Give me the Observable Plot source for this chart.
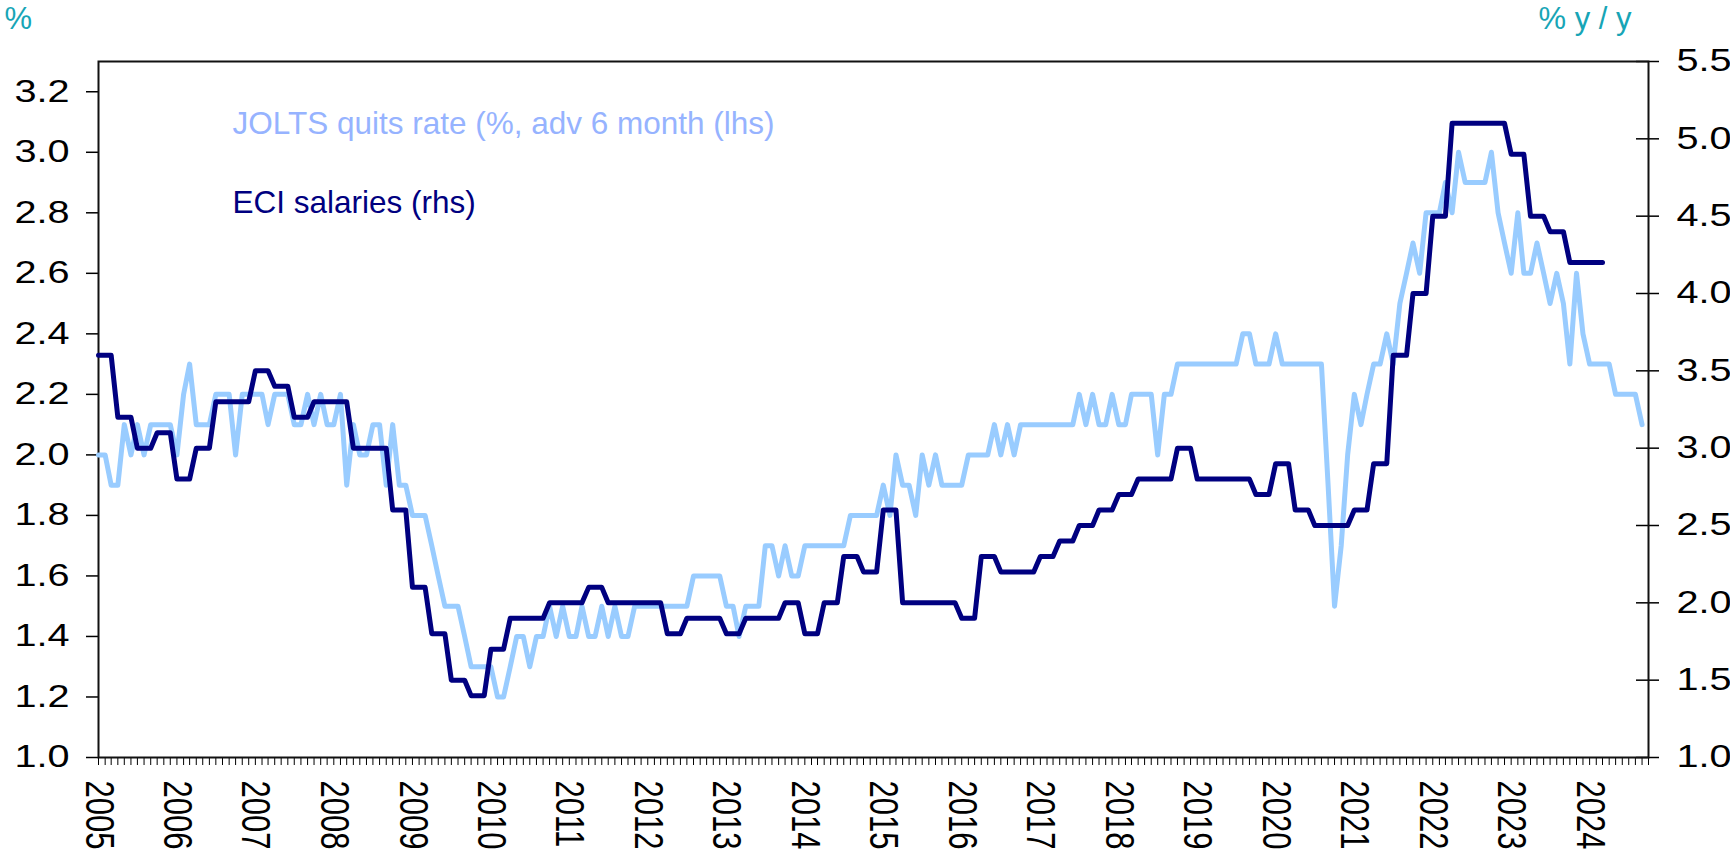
<!DOCTYPE html>
<html>
<head>
<meta charset="utf-8">
<script src="https://cdn.jsdelivr.net/npm/d3@7"></script>
<script src="https://cdn.jsdelivr.net/npm/@observablehq/plot@0.6"></script>
<style>
  html, body { margin: 0; padding: 0; background: #ffffff; }
  #chart { width: 1730px; height: 851px; }
</style>
</head>
<body>
<div id="chart"></div>
<script>
// ---- data (monthly, starting January 2005) ----
const startYear = 2005;

// JOLTS quits rate, %, advanced 6 months (lhs), Jan 2005 .. Sep 2024
const joltsQuits = [
  2.0, 2.0, 1.9, 1.9, 2.1, 2.0, 2.1, 2.0, 2.1, 2.1, 2.1, 2.1, // 2005
  2.0, 2.2, 2.3, 2.1, 2.1, 2.1, 2.2, 2.2, 2.2, 2.0, 2.2, 2.2, // 2006
  2.2, 2.2, 2.1, 2.2, 2.2, 2.2, 2.1, 2.1, 2.2, 2.1, 2.2, 2.1, // 2007
  2.1, 2.2, 1.9, 2.1, 2.0, 2.0, 2.1, 2.1, 1.9, 2.1, 1.9, 1.9, // 2008
  1.8, 1.8, 1.8, 1.7, 1.6, 1.5, 1.5, 1.5, 1.4, 1.3, 1.3, 1.3, // 2009
  1.3, 1.2, 1.2, 1.3, 1.4, 1.4, 1.3, 1.4, 1.4, 1.5, 1.4, 1.5, // 2010
  1.4, 1.4, 1.5, 1.4, 1.4, 1.5, 1.4, 1.5, 1.4, 1.4, 1.5, 1.5, // 2011
  1.5, 1.5, 1.5, 1.5, 1.5, 1.5, 1.5, 1.6, 1.6, 1.6, 1.6, 1.6, // 2012
  1.5, 1.5, 1.4, 1.5, 1.5, 1.5, 1.7, 1.7, 1.6, 1.7, 1.6, 1.6, // 2013
  1.7, 1.7, 1.7, 1.7, 1.7, 1.7, 1.7, 1.8, 1.8, 1.8, 1.8, 1.8, // 2014
  1.9, 1.8, 2.0, 1.9, 1.9, 1.8, 2.0, 1.9, 2.0, 1.9, 1.9, 1.9, // 2015
  1.9, 2.0, 2.0, 2.0, 2.0, 2.1, 2.0, 2.1, 2.0, 2.1, 2.1, 2.1, // 2016
  2.1, 2.1, 2.1, 2.1, 2.1, 2.1, 2.2, 2.1, 2.2, 2.1, 2.1, 2.2, // 2017
  2.1, 2.1, 2.2, 2.2, 2.2, 2.2, 2.0, 2.2, 2.2, 2.3, 2.3, 2.3, // 2018
  2.3, 2.3, 2.3, 2.3, 2.3, 2.3, 2.3, 2.4, 2.4, 2.3, 2.3, 2.3, // 2019
  2.4, 2.3, 2.3, 2.3, 2.3, 2.3, 2.3, 2.3, 1.9, 1.5, 1.7, 2.0, // 2020
  2.2, 2.1, 2.2, 2.3, 2.3, 2.4, 2.3, 2.5, 2.6, 2.7, 2.6, 2.8, // 2021
  2.8, 2.8, 2.9, 2.8, 3.0, 2.9, 2.9, 2.9, 2.9, 3.0, 2.8, 2.7, // 2022
  2.6, 2.8, 2.6, 2.6, 2.7, 2.6, 2.5, 2.6, 2.5, 2.3, 2.6, 2.4, // 2023
  2.3, 2.3, 2.3, 2.3, 2.2, 2.2, 2.2, 2.2, 2.1                 // 2024
];

// ECI salaries, % y/y (rhs), quarterly values shown monthly, Jan 2005 .. Mar 2024
const eciSalaries = [
  3.6, 3.6, 3.6, 3.2, 3.2, 3.2, 3.0, 3.0, 3.0, 3.1, 3.1, 3.1, // 2005
  2.8, 2.8, 2.8, 3.0, 3.0, 3.0, 3.3, 3.3, 3.3, 3.3, 3.3, 3.3, // 2006
  3.5, 3.5, 3.5, 3.4, 3.4, 3.4, 3.2, 3.2, 3.2, 3.3, 3.3, 3.3, // 2007
  3.3, 3.3, 3.3, 3.0, 3.0, 3.0, 3.0, 3.0, 3.0, 2.6, 2.6, 2.6, // 2008
  2.1, 2.1, 2.1, 1.8, 1.8, 1.8, 1.5, 1.5, 1.5, 1.4, 1.4, 1.4, // 2009
  1.7, 1.7, 1.7, 1.9, 1.9, 1.9, 1.9, 1.9, 1.9, 2.0, 2.0, 2.0, // 2010
  2.0, 2.0, 2.0, 2.1, 2.1, 2.1, 2.0, 2.0, 2.0, 2.0, 2.0, 2.0, // 2011
  2.0, 2.0, 2.0, 1.8, 1.8, 1.8, 1.9, 1.9, 1.9, 1.9, 1.9, 1.9, // 2012
  1.8, 1.8, 1.8, 1.9, 1.9, 1.9, 1.9, 1.9, 1.9, 2.0, 2.0, 2.0, // 2013
  1.8, 1.8, 1.8, 2.0, 2.0, 2.0, 2.3, 2.3, 2.3, 2.2, 2.2, 2.2, // 2014
  2.6, 2.6, 2.6, 2.0, 2.0, 2.0, 2.0, 2.0, 2.0, 2.0, 2.0, 2.0, // 2015
  1.9, 1.9, 1.9, 2.3, 2.3, 2.3, 2.2, 2.2, 2.2, 2.2, 2.2, 2.2, // 2016
  2.3, 2.3, 2.3, 2.4, 2.4, 2.4, 2.5, 2.5, 2.5, 2.6, 2.6, 2.6, // 2017
  2.7, 2.7, 2.7, 2.8, 2.8, 2.8, 2.8, 2.8, 2.8, 3.0, 3.0, 3.0, // 2018
  2.8, 2.8, 2.8, 2.8, 2.8, 2.8, 2.8, 2.8, 2.8, 2.7, 2.7, 2.7, // 2019
  2.9, 2.9, 2.9, 2.6, 2.6, 2.6, 2.5, 2.5, 2.5, 2.5, 2.5, 2.5, // 2020
  2.6, 2.6, 2.6, 2.9, 2.9, 2.9, 3.6, 3.6, 3.6, 4.0, 4.0, 4.0, // 2021
  4.5, 4.5, 4.5, 5.1, 5.1, 5.1, 5.1, 5.1, 5.1, 5.1, 5.1, 5.1, // 2022
  4.9, 4.9, 4.9, 4.5, 4.5, 4.5, 4.4, 4.4, 4.4, 4.2, 4.2, 4.2, // 2023
  4.2, 4.2, 4.2                                               // 2024
];

const leftTicks  = [1.0, 1.2, 1.4, 1.6, 1.8, 2.0, 2.2, 2.4, 2.6, 2.8, 3.0, 3.2];
const rightTicks = [1.0, 1.5, 2.0, 2.5, 3.0, 3.5, 4.0, 4.5, 5.0, 5.5];
const yearLabels = [2005, 2006, 2007, 2008, 2009, 2010, 2011, 2012, 2013, 2014,
                    2015, 2016, 2017, 2018, 2019, 2020, 2021, 2022, 2023, 2024];
const leftDomain  = [1.0, 3.3];
const rightDomain = [1.0, 5.5];
const axisMonths  = 237; // axis runs Jan 2005 .. Oct 2024

const seriesNames = {
  jolts: "JOLTS quits rate (%, adv 6 month (lhs)",
  eci: "ECI salaries (rhs)"
};
const axisTitles = { left: "%", right: "% y / y" };

// ---- helpers ----
const month = i => new Date(Date.UTC(startYear, i, 1));
const toLeft = r => leftDomain[0] + (r - rightDomain[0]) * (leftDomain[1] - leftDomain[0]) / (rightDomain[1] - rightDomain[0]);
const fromLeft = l => rightDomain[0] + (l - leftDomain[0]) * (rightDomain[1] - rightDomain[0]) / (leftDomain[1] - leftDomain[0]);

const joltsData = joltsQuits.map((v, i) => ({date: month(i), value: v}));
const eciData = eciSalaries.map((v, i) => ({date: month(i), value: toLeft(v)}));
const monthTicks = d3.range(axisMonths + 1).map(month);
const yearTicks = yearLabels.map(y => new Date(Date.UTC(y, 0, 1)));

const FONT = "'Liberation Sans', Arial, Helvetica, sans-serif";
const TEAL = "#17a5b6";
const LIGHT = "#99ccff";
const LIGHT_TEXT = "#96b3ff";
const NAVY = "#000080";

const W = 1730, H = 851;
const mL = 98, mR = 82, mT = 61, mB = 94;

const chart = Plot.plot({
  width: W,
  height: H,
  marginLeft: mL,
  marginRight: mR,
  marginTop: mT,
  marginBottom: mB,
  style: {fontFamily: FONT, background: "#ffffff", color: "#000", overflow: "visible"},
  x: {type: "utc", domain: [month(0), month(axisMonths)]},
  y: {domain: leftDomain},
  marks: [
    Plot.axisY({anchor: "left", ticks: leftTicks, tickFormat: d => d.toFixed(1),
      tickSize: 12, tickPadding: 17, fontSize: 30.5, label: null, stroke: "#000", strokeWidth: 1.5}),
    Plot.axisY({anchor: "right", ticks: rightTicks.map(toLeft), tickFormat: d => fromLeft(d).toFixed(1),
      tickSize: 23, dx: -13, tickPadding: 18, fontSize: 30.5, label: null, stroke: "#000", strokeWidth: 1.5}),
    Plot.axisX({ticks: monthTicks, tickSize: 8, tickFormat: () => "", label: null, stroke: "#000"}),
    Plot.axisX({ticks: yearTicks, tickFormat: d => String(d.getUTCFullYear()), tickSize: 0,
      tickPadding: 23, tickRotate: 90, textAnchor: "start", lineAnchor: "middle",
      fontSize: 31, label: null}),
    Plot.frame({stroke: "#111", strokeWidth: 2}),
    Plot.line(joltsData, {x: "date", y: "value", stroke: LIGHT, strokeWidth: 5, strokeLinejoin: "round"}),
    Plot.line(eciData, {x: "date", y: "value", stroke: NAVY, strokeWidth: 5, strokeLinejoin: "round"}),
    Plot.text([seriesNames.jolts], {frameAnchor: "top-left", dx: 134, dy: 72, textAnchor: "start",
      lineAnchor: "bottom", fill: LIGHT_TEXT, fontSize: 31.5}),
    Plot.text([seriesNames.eci], {frameAnchor: "top-left", dx: 134, dy: 151, textAnchor: "start",
      lineAnchor: "bottom", fill: NAVY, fontSize: 31.5}),
    Plot.text([axisTitles.left], {frameAnchor: "top-left", dx: -94, dy: -33, textAnchor: "start",
      lineAnchor: "bottom", fill: TEAL, fontSize: 31}),
    Plot.text([axisTitles.right], {frameAnchor: "top-right", dx: -17, dy: -33, textAnchor: "end",
      lineAnchor: "bottom", fill: TEAL, fontSize: 31})
  ]
});

document.getElementById("chart").appendChild(chart);

// widen tick-label glyphs horizontally, as in the reference
const STRETCH = 1.3;
chart.querySelectorAll("g[aria-label='y-axis tick label'] text").forEach(t => {
  const w = t.getComputedTextLength();
  t.setAttribute("textLength", (w * STRETCH).toFixed(1));
  t.setAttribute("lengthAdjust", "spacingAndGlyphs");
});
chart.querySelectorAll("g[aria-label='x-axis tick label'] text").forEach(t => {
  const tr = t.getAttribute("transform") || "";
  if (tr.includes("rotate")) t.setAttribute("transform", tr + ` scale(1,${STRETCH})`);
});
</script>
</body>
</html>
